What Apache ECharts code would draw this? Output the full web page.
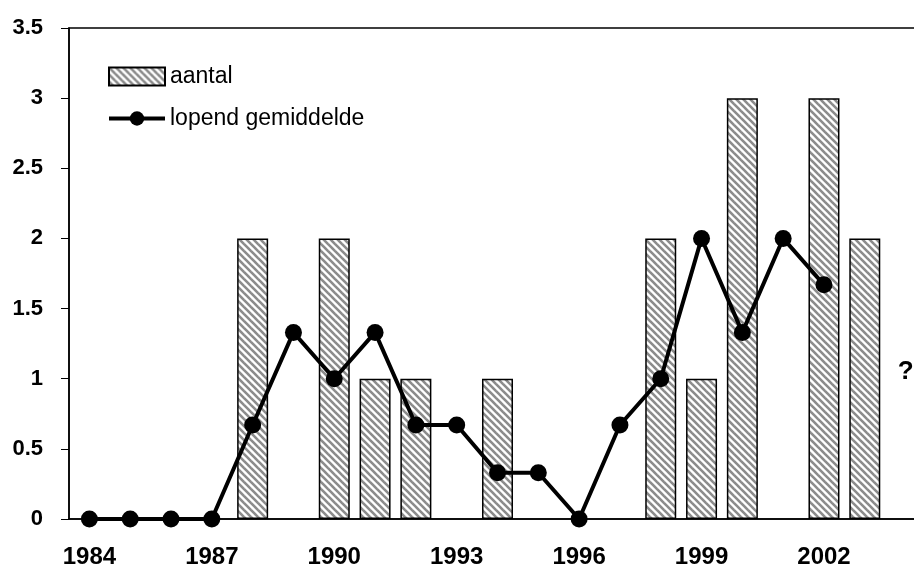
<!DOCTYPE html>
<html>
  <head>
    <meta charset="utf-8" />
    <title>ECharts</title>
    <script src="https://cdn.jsdelivr.net/npm/echarts@6/dist/echarts.min.js"></script>
  </head>
  <body style="margin:0;background:#fff;overflow:hidden;">
    <!-- the plot runs a little past the right edge of the window, as in the original -->
    <div id="main" style="width: 926px;height:569px;"></div>
    <script type="text/javascript">
// years on the x axis (2004 only carries the question mark)
var years = ['1984','1985','1986','1987','1988','1989','1990','1991','1992','1993',
             '1994','1995','1996','1997','1998','1999','2000','2001','2002','2003','2004'];
// aantal per jaar
var aantal = [null, null, null, null, 2, null, 2, 1, 1, null,
              1, null, null, null, 2, 1, 3, null, 3, 2, null];
// lopend gemiddelde (3 jaar)
var lopend = [0, 0, 0, 0, 0.67, 1.33, 1, 1.33, 0.67, 0.67,
              0.33, 0.33, 0, 0.67, 1, 2, 1.33, 2, 1.67];
var yTicks = {min: 0, max: 3.5, step: 0.5};

// hatched fill for the bars
var tile = document.createElement('canvas');
tile.width = 7; tile.height = 7;
var ctx = tile.getContext('2d');
ctx.fillStyle = '#ffffff';
ctx.fillRect(0, 0, 7, 7);
ctx.strokeStyle = '#8c8c8c';
ctx.lineWidth = 2.6;
for (var k = -2; k <= 2; k++) {
  ctx.beginPath();
  ctx.moveTo(k * 7 - 1, -1);
  ctx.lineTo(k * 7 + 8, 8);
  ctx.stroke();
}

var myChart = echarts.init(document.getElementById('main'));
var font = 'Liberation Sans, Arial, sans-serif';

myChart.setOption({
  animation: false,
  grid: {
    left: 69, top: 28, bottom: 49, right: 0,
    show: true, borderColor: '#000', borderWidth: 1.5, backgroundColor: 'transparent'
  },
  legend: {
    orient: 'vertical',
    left: 102, top: 60,
    itemWidth: 56, itemHeight: 18, itemGap: 19,
    textStyle: {fontFamily: font, fontSize: 23, color: '#000'},
    data: [
      {name: 'aantal', icon: 'rect'},
      {name: 'lopend gemiddelde', lineStyle: {width: 4, color: '#000'}}
    ]
  },
  xAxis: {
    type: 'category',
    data: years,
    boundaryGap: true,
    axisLine: {lineStyle: {color: '#000', width: 1.5}},
    axisTick: {interval: 0, length: 7, lineStyle: {color: '#000', width: 1}},
    axisLabel: {interval: 2, margin: 26, fontFamily: font, fontSize: 24, fontWeight: 'bold', color: '#000'},
    splitLine: {show: false}
  },
  yAxis: {
    type: 'value',
    min: yTicks.min, max: yTicks.max, interval: yTicks.step,
    axisLine: {show: true, lineStyle: {color: '#000', width: 1.5}},
    axisTick: {show: true, length: 8, lineStyle: {color: '#000', width: 1}},
    axisLabel: {margin: 26, fontFamily: font, fontSize: 22, fontWeight: 'bold', color: '#000'},
    splitLine: {show: false}
  },
  series: [
    {
      name: 'aantal',
      type: 'bar',
      data: aantal,
      barWidth: 31,
      itemStyle: {color: {image: tile, repeat: 'repeat'}, borderColor: '#000', borderWidth: 1.5}
    },
    {
      name: 'lopend gemiddelde',
      type: 'line',
      data: lopend,
      symbol: 'circle',
      symbolSize: 17,
      lineStyle: {color: '#000', width: 4},
      itemStyle: {color: '#000'},
      markPoint: {
        symbol: 'circle',
        symbolSize: 1,
        itemStyle: {color: 'rgba(0,0,0,0)'},
        label: {show: true, position: 'inside', formatter: '?', fontFamily: font, fontSize: 26, fontWeight: 'bold', color: '#000'},
        data: [{coord: ['2004', 1.05]}]
      }
    }
  ]
});
    </script>
  </body>
</html>
